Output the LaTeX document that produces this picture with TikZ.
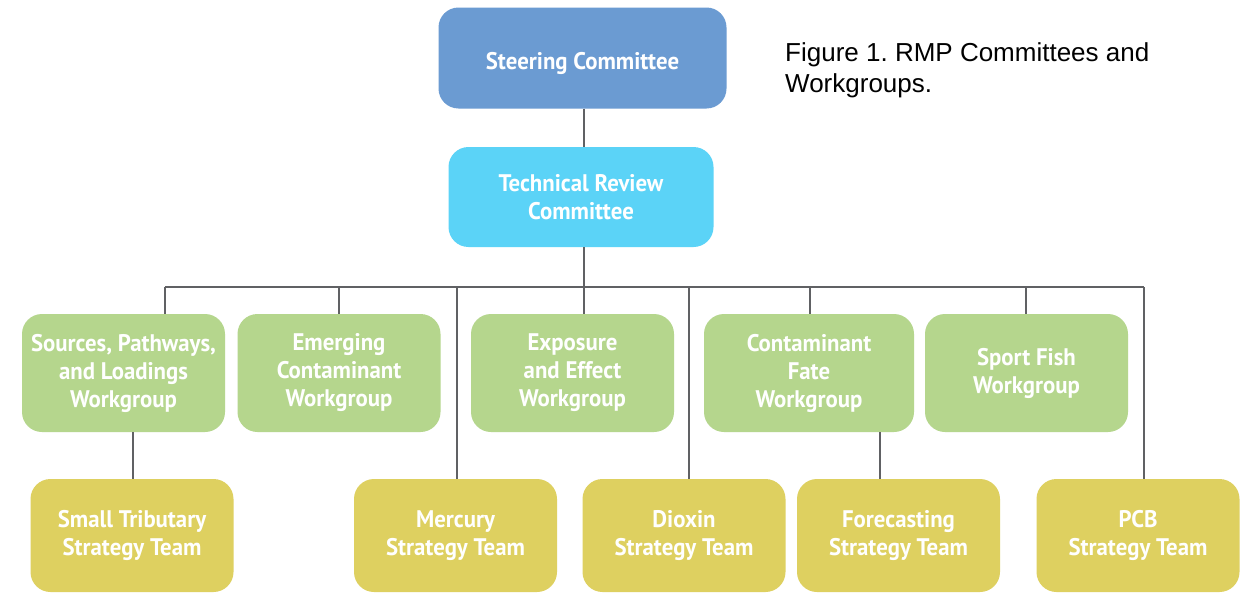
\documentclass[tikz,border=0pt]{standalone}
\usepackage{fontspec}
\setmainfont{Liberation Sans}
\newfontfamily\boxfont[FakeStretch=0.95]{PT Sans}
\definecolor{steerc}{HTML}{6B9BD2}
\definecolor{trcc}{HTML}{5BD3F7}
\definecolor{wgc}{HTML}{B5D68D}
\definecolor{stc}{HTML}{DED060}
\definecolor{linec}{HTML}{606164}
\tikzset{
  orgbox/.style={rounded corners=20pt, inner sep=0pt, align=center, text=white,
    font=\boxfont\bfseries\fontsize{24}{28}\selectfont},
  wgbox/.style={orgbox, fill=wgc, minimum width=203pt, minimum height=118pt},
  stbox/.style={orgbox, fill=stc, minimum width=203pt, minimum height=113pt},
  conn/.style={draw=linec, line width=2.6pt}
}
\frenchspacing
\begin{document}
\begin{tikzpicture}[x=1pt,y=-1pt]
\useasboundingbox[fill=white] (0,0) rectangle (1251,597);
% top
\node[orgbox, fill=steerc, minimum width=288pt, minimum height=101pt] (steer) at (582.5,58) {\raisebox{-11pt}[0pt][0pt]{Steering Committee}};
\node[orgbox, fill=trcc, minimum width=265pt, minimum height=100pt] (trc) at (581,197) {Technical Review\\Committee};
% workgroups
\node[wgbox] (src) at (123.5,373) {Sources, Pathways,\\and Loadings\\Workgroup};
\node[wgbox] (emg) at (339,373) {Emerging\\Contaminant\\Workgroup};
\node[wgbox] (exp) at (572.5,373) {Exposure\\and Effect\\Workgroup};
\node[wgbox, minimum width=210pt] (fate) at (809,373) {Contaminant\\Fate\\Workgroup};
\node[wgbox] (fish) at (1026.5,373) {Sport Fish\\Workgroup};
% strategy teams
\node[stbox] (trib) at (132,535.5) {Small Tributary\\Strategy Team};
\node[stbox] (merc) at (455.5,535.5) {Mercury\\Strategy Team};
\node[stbox] (diox) at (684,535.5) {Dioxin\\Strategy Team};
\node[stbox] (fore) at (898.5,535.5) {Forecasting\\Strategy Team};
\node[stbox] (pcb) at (1138,535.5) {PCB\\Strategy Team};
% caption
\node[anchor=north west, align=left, inner sep=0pt, font=\fontsize{26}{31}\selectfont] (cap) at (785,42) {Figure 1. RMP Committees and\\Workgroups.};
% bus coordinates
\coordinate (bL) at (165,287);
\coordinate (bT) at (584,287);
\coordinate (bR) at (1144,287);
\coordinate (bEmg) at (339,287);
\coordinate (bMerc) at (457,287);
\coordinate (bDiox) at (689,287);
\coordinate (bFate) at (810,287);
\coordinate (bFish) at (1026,287);
\coordinate (tribx) at (133,0);
\coordinate (forex) at (880,0);
% connectors
\draw[conn] (steer.south -| bT) -- (trc.north -| bT);
\draw[conn] (trc.south -| bT) -- (exp.north -| bT);
\draw[conn] (bL) -- (bR);
\draw[conn] (bL) -- (src.north -| bL);
\draw[conn] (bEmg) -- (emg.north -| bEmg);
\draw[conn] (bMerc) -- (merc.north -| bMerc);
\draw[conn] (bDiox) -- (diox.north -| bDiox);
\draw[conn] (bFate) -- (fate.north -| bFate);
\draw[conn] (bFish) -- (fish.north -| bFish);
\draw[conn] (bR) -- (pcb.north -| bR);
\draw[conn] (src.south -| tribx) -- (trib.north -| tribx);
\draw[conn] (fate.south -| forex) -- (fore.north -| forex);
\end{tikzpicture}
\end{document}
